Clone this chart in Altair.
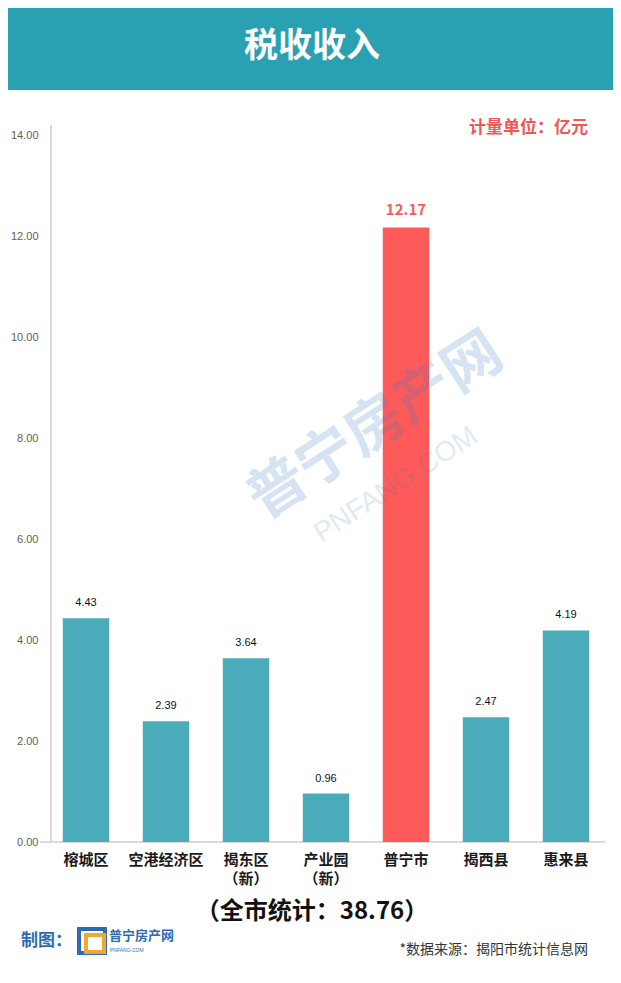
import altair as alt
import pandas as pd

districts = ["榕城区", "空港经济区", "揭东区\n（新）", "产业园\n（新）", "普宁市", "揭西县", "惠来县"]
values = [4.43, 2.39, 3.64, 0.96, 12.17, 2.47, 4.19]
highlight = ["否", "否", "否", "否", "是", "否", "否"]
y_ticks = [0, 2, 4, 6, 8, 10, 12, 14]

title_text = "税收收入"
unit_text = "计量单位：亿元"
total_text = "（全市统计：38.76）"
maker_text = "制图："
logo_text = "普宁房产网"
logo_sub = "PNFANG.COM"
source_text = "*数据来源：揭阳市统计信息网"

df = pd.DataFrame({"区域": districts, "值": values, "重点": highlight})
order = districts

CJK = "Noto Sans CJK SC"
TEAL = "#4aabbb"
RED = "#ff5a5a"

x_enc = alt.X("区域:N", sort=order,
              scale=alt.Scale(paddingInner=0.42, paddingOuter=0.21),
              axis=alt.Axis(title=None, labelAngle=0, domain=False, ticks=False,
                            labelFont=CJK, labelFontSize=15, labelFontWeight="bold",
                            labelColor="#1a1a1a", labelPadding=10, labelLineHeight=19,
                            labelExpr="split(datum.label, '\\n')"))
y_enc = alt.Y("值:Q", scale=alt.Scale(domain=[0, 14], nice=False),
              axis=alt.Axis(title=None, values=y_ticks, format=".2f", grid=False,
                            domain=False, ticks=False, labelFont="Liberation Sans",
                            labelFontSize=11, labelColor="#5a6358", labelPadding=8))

base = alt.Chart(df)

header = alt.Chart(df).mark_rect(color="#2aa1b3").encode(
    x=alt.value(-38), x2=alt.value(567), y=alt.value(-127), y2=alt.value(-45))

bars = base.mark_bar().encode(
    x=x_enc, y=y_enc,
    color=alt.Color("重点:N", scale=alt.Scale(domain=["否", "是"], range=[TEAL, RED]), legend=None))

labels_normal = base.transform_filter("datum['重点'] == '否'").mark_text(
    dy=-10, baseline="bottom", font="Liberation Sans", fontSize=11, color="#111111").encode(
    x=alt.X("区域:N", sort=order), y="值:Q", text=alt.Text("值:Q", format=".2f"))
labels_hl = base.transform_filter("datum['重点'] == '是'").mark_text(
    dy=-9, baseline="bottom", font=CJK, fontSize=15, fontWeight="bold", color=RED).encode(
    x=alt.X("区域:N", sort=order), y="值:Q", text=alt.Text("值:Q", format=".2f"))

yaxis_line = alt.Chart(df).mark_rule(color="#d9d9d9", strokeWidth=1).encode(
    x=alt.value(5), y=alt.value(-10), y2=alt.value(707))
xaxis_line = alt.Chart(df).mark_rule(color="#d9d9d9", strokeWidth=1).encode(
    x=alt.value(-6), x2=alt.value(559), y=alt.value(707))

def txt(t, x, y, **kw):
    return alt.Chart(pd.DataFrame({"t": [t]})).mark_text(**kw).encode(
        text="t:N", x=alt.value(x), y=alt.value(y))

title = txt(title_text, 266, -88, font=CJK, fontSize=34, fontWeight="bold", color="white",
            align="center", baseline="middle")
unit = txt(unit_text, 542, -7, font=CJK, fontSize=17, fontWeight="bold", color="#f05656",
           align="right", baseline="middle")
total = txt(total_text, 266, 777, font=CJK, fontSize=24, fontWeight="bold", color="#111111",
            align="center", baseline="middle")
maker = txt(maker_text, -25, 806, font=CJK, fontSize=17, fontWeight="bold", color="#2b6cb3",
            align="left", baseline="middle")
logo_box = alt.Chart(df).mark_rect(fill=None, stroke="#2b6cb3", strokeWidth=3).encode(
    x=alt.value(33), x2=alt.value(59), y=alt.value(794), y2=alt.value(818))
logo_box2 = alt.Chart(df).mark_rect(fill=None, stroke="#f0a830", strokeWidth=3).encode(
    x=alt.value(40), x2=alt.value(58), y=alt.value(800), y2=alt.value(817))
logo = txt(logo_text, 63, 801, font=CJK, fontSize=13, fontWeight="bold", color="#2b6cb3",
           align="left", baseline="middle")
logo2 = txt(logo_sub, 64, 815, font="Liberation Sans", fontSize=5, color="#2b6cb3",
            align="left", baseline="middle")
source = txt(source_text, 542, 815, font=CJK, fontSize=14, color="#333333",
             align="right", baseline="middle")

wm1 = txt(logo_text, 330, 292, font=CJK, fontSize=58, fontWeight="bold", color="#3a7abf",
          opacity=0.2, angle=327, align="center", baseline="middle")
wm2 = txt(logo_sub, 350, 350, font="Liberation Sans", fontSize=28, color="#3a7abf",
          opacity=0.15, angle=327, align="center", baseline="middle")

chart = alt.layer(
    header, yaxis_line, xaxis_line, bars, labels_normal, labels_hl, wm1, wm2,
    title, unit, total, maker, logo_box, logo_box2, logo, logo2, source
).properties(
    width=560, height=707,
    padding={"left": 38, "top": 127, "right": 7, "bottom": 125},
    autosize=alt.AutoSizeParams(type="none"),
    background="white"
).configure_view(strokeWidth=0, stroke="transparent")

chart.save("out.html", embed_options={"renderer": "svg", "actions": False})
